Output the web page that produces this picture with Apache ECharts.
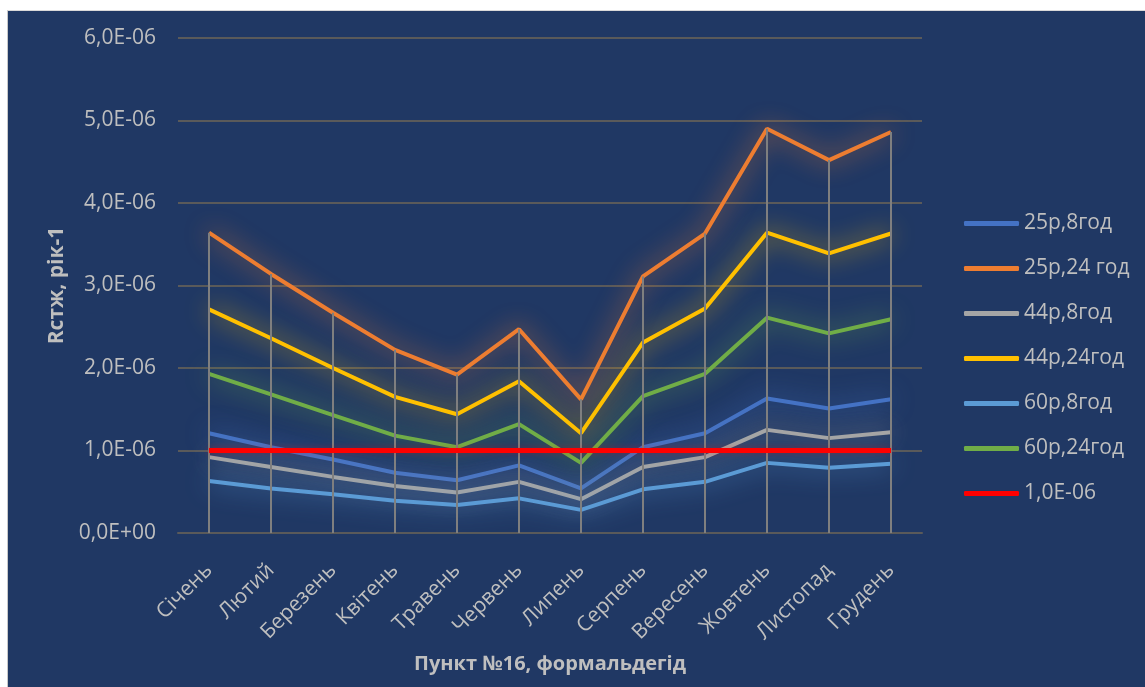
<!DOCTYPE html>
<html lang="uk">
<head>
  <meta charset="utf-8">
  <script src="https://cdn.jsdelivr.net/npm/echarts@6/dist/echarts.min.js"></script>
</head>
<body style="margin: 0; background: #ffffff">
  <div style="position: absolute; left: 7px; top: 10px; width: 1138px; height: 677px; border-left: 1px solid #c8c8c8; border-top: 1px solid #d9d9d9; box-sizing: border-box;">
    <div id="container" style="width: 100%; height: 100%; background: #203864"></div>
  </div>
  <script type="text/javascript">
    // values in units of 1E-06 (рік-1)
    var months = ['Січень', 'Лютий', 'Березень', 'Квітень', 'Травень', 'Червень',
                  'Липень', 'Серпень', 'Вересень', 'Жовтень', 'Листопад', 'Грудень'];
    var s25_8  = [1.21, 1.04, 0.89, 0.73, 0.64, 0.82, 0.54, 1.04, 1.21, 1.63, 1.51, 1.62];
    var s25_24 = [3.64, 3.14, 2.67, 2.22, 1.92, 2.47, 1.62, 3.11, 3.63, 4.90, 4.52, 4.86];
    var s44_8  = [0.92, 0.80, 0.68, 0.57, 0.49, 0.62, 0.41, 0.80, 0.92, 1.25, 1.15, 1.22];
    var s44_24 = [2.71, 2.36, 2.00, 1.65, 1.44, 1.84, 1.21, 2.31, 2.72, 3.64, 3.39, 3.63];
    var s60_8  = [0.63, 0.54, 0.47, 0.39, 0.34, 0.42, 0.28, 0.53, 0.62, 0.85, 0.79, 0.84];
    var s60_24 = [1.93, 1.68, 1.43, 1.18, 1.04, 1.32, 0.85, 1.66, 1.93, 2.61, 2.42, 2.59];
    var limit  = [1, 1, 1, 1, 1, 1, 1, 1, 1, 1, 1, 1];

    var names = ['25р,8год', '25р,24 год', '44р,8год', '44р,24год', '60р,8год', '60р,24год', '1,0E-06'];
    var colors = ['#4472c4', '#ed7d31', '#a5a5a5', '#ffc000', '#5b9bd5', '#70ad47', '#ff0000'];
    var seriesData = [s25_8, s25_24, s44_8, s44_24, s60_8, s60_24, limit];

    // drop lines go from the highest point of each month down to the axis
    var dropTop = months.map(function (m, i) {
      return Math.max.apply(null, seriesData.map(function (d) { return d[i]; }));
    });

    var txt = '#bfbfbf';
    var font = 'Open Sans';

    var dom = document.getElementById('container');
    var myChart = echarts.init(dom, null, { renderer: 'canvas' });

    var series = seriesData.map(function (d, k) {
      var isLimit = k === 6;
      return {
        name: names[k],
        type: 'line',
        data: d,
        symbol: 'none',
        z: isLimit ? 4 : 2,
        lineStyle: {
          color: colors[k],
          width: isLimit ? 5 : 4,
          shadowColor: isLimit ? 'rgba(255,0,0,0.3)' : colors[k],
          shadowBlur: isLimit ? 6 : 24
        },
        itemStyle: { color: colors[k] },
        animation: false
      };
    });
    series.push({
      name: 'drop',
      type: 'bar',
      data: dropTop,
      barWidth: 2,
      z: 3,
      itemStyle: { color: '#7f7f7f' },
      animation: false
    });

    var option = {
      backgroundColor: '#203864',
      textStyle: { fontFamily: font },
      grid: { left: 170, right: 223, top: 27, bottom: 154 },
      legend: {
        data: names,
        orient: 'vertical',
        left: 951,
        top: 197,
        itemWidth: 55,
        itemHeight: 5,
        itemGap: 24,
        icon: 'roundRect',
        textStyle: { color: txt, fontSize: 21, fontFamily: font, lineHeight: 21 }
      },
      xAxis: {
        type: 'category',
        data: months,
        boundaryGap: true,
        name: 'Пункт №16, формальдегід',
        nameLocation: 'middle',
        nameGap: 121,
        nameTextStyle: { color: txt, fontSize: 20, fontWeight: 'bold', fontFamily: font },
        axisLine: { lineStyle: { color: '#5a5a5a', width: 2 } },
        axisTick: { show: false },
        axisLabel: { color: txt, fontSize: 21, rotate: 45, margin: 34, fontFamily: font }
      },
      yAxis: {
        type: 'value',
        min: 0,
        max: 6,
        interval: 1,
        name: 'Rстж, рік-1',
        nameLocation: 'middle',
        nameGap: 105,
        nameTextStyle: { color: txt, fontSize: 21, fontWeight: 'bold', fontFamily: font },
        axisLine: { show: false },
        axisTick: { show: false },
        splitLine: { lineStyle: { color: '#5a5a5a', width: 2 } },
        axisLabel: {
          color: txt,
          fontSize: 21,
          margin: 22,
          fontFamily: font,
          formatter: function (v) {
            if (v === 0) return '0,0E+00';
            return v.toFixed(1).replace('.', ',') + 'E-06';
          }
        }
      },
      series: series
    };

    myChart.setOption(option);
    window.addEventListener('resize', myChart.resize);
  </script>
</body>
</html>
